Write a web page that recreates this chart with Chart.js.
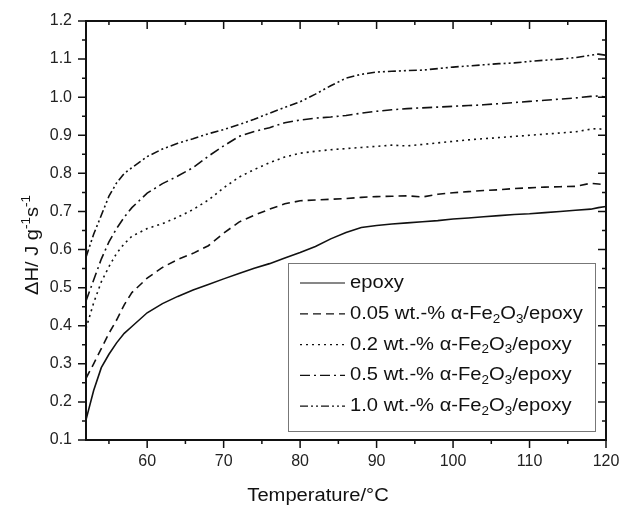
<!DOCTYPE html>
<html>
<head>
<meta charset="utf-8">
<script src="https://cdn.jsdelivr.net/npm/chart.js@4.4.0/dist/chart.umd.min.js"></script>
<style>
  html, body { margin: 0; padding: 0; background: #fff; }
  #wrap { width: 623px; height: 506px; }
</style>
</head>
<body>
<div id="wrap"><canvas id="dscChart" width="623" height="506"></canvas></div>
<script>
// temperature points (°C) shared by all curves
const temps = [52, 53, 54, 55, 56, 57, 58, 60, 62, 64, 66, 68, 70, 72, 74, 76, 78, 80, 82, 84, 86, 88, 90,
  92, 94, 96, 98, 100, 102, 104, 106, 108, 110, 112, 114, 116, 118, 119, 120];

const epoxy = [0.153, 0.23, 0.29, 0.325, 0.355, 0.38, 0.398, 0.434, 0.458, 0.477, 0.494, 0.508, 0.523, 0.537,
  0.551, 0.563, 0.578, 0.592, 0.608, 0.628, 0.645, 0.658, 0.663, 0.667, 0.670, 0.673, 0.676, 0.680, 0.683,
  0.686, 0.689, 0.692, 0.694, 0.697, 0.700, 0.703, 0.706, 0.710, 0.713];
const fe005 = [0.262, 0.30, 0.34, 0.38, 0.415, 0.455, 0.487, 0.525, 0.553, 0.574, 0.590, 0.610, 0.643, 0.672,
  0.690, 0.706, 0.720, 0.728, 0.730, 0.732, 0.734, 0.737, 0.739, 0.740, 0.741, 0.738, 0.745, 0.749, 0.752,
  0.755, 0.757, 0.760, 0.762, 0.764, 0.765, 0.766, 0.774, 0.772, 0.770];
const fe02 = [0.393, 0.46, 0.515, 0.555, 0.59, 0.615, 0.635, 0.655, 0.668, 0.685, 0.705, 0.730, 0.762, 0.790,
  0.810, 0.828, 0.843, 0.853, 0.858, 0.862, 0.865, 0.868, 0.871, 0.874, 0.872, 0.876, 0.880, 0.884, 0.888,
  0.891, 0.894, 0.897, 0.900, 0.903, 0.906, 0.909, 0.916, 0.918, 0.913];
const fe05 = [0.465, 0.52, 0.575, 0.62, 0.655, 0.685, 0.71, 0.748, 0.773, 0.793, 0.815, 0.845, 0.872, 0.897,
  0.910, 0.920, 0.933, 0.940, 0.945, 0.948, 0.952, 0.958, 0.963, 0.967, 0.970, 0.972, 0.974, 0.976, 0.978,
  0.980, 0.983, 0.986, 0.989, 0.992, 0.995, 0.998, 1.002, 1.003, 1.000];
const fe10 = [0.58, 0.64, 0.69, 0.74, 0.775, 0.80, 0.815, 0.844, 0.864, 0.879, 0.891, 0.904, 0.915, 0.928,
  0.942, 0.958, 0.973, 0.988, 1.008, 1.030, 1.050, 1.060, 1.066, 1.068, 1.070, 1.071, 1.075, 1.079, 1.082,
  1.085, 1.088, 1.090, 1.094, 1.097, 1.100, 1.104, 1.110, 1.113, 1.110];

const legendNames = ["epoxy", "0.05 wt.-% \u03b1-Fe2O3/epoxy", "0.2 wt.-% \u03b1-Fe2O3/epoxy",
  "0.5 wt.-% \u03b1-Fe2O3/epoxy", "1.0 wt.-% \u03b1-Fe2O3/epoxy"];

const xTicks = [60, 70, 80, 90, 100, 110, 120];
const yTicks = [0.1, 0.2, 0.3, 0.4, 0.5, 0.6, 0.7, 0.8, 0.9, 1.0, 1.1, 1.2];

const dashes = [[], [8, 5], [2, 4], [10, 4, 2, 4], [8, 3, 2, 3, 2, 3]];
const FONT = "'Liberation Sans', Arial, sans-serif";
const STRETCH = 1.12; // the original text is a bit wider than Arial

function toPoints(arr){
  return temps.map((t, i) => ({x: t, y: arr[i]}));
}

const seriesList = [epoxy, fe005, fe02, fe05, fe10];

const datasets = seriesList.map((s, i) => ({
  label: legendNames[i],
  data: toPoints(s),
  borderColor: '#111',
  borderWidth: 1.6,
  borderDash: dashes[i],
  pointRadius: 0,
  tension: 0,
  fill: false
}));

// segs: [text, mode] with mode 0 normal, 1 subscript, 2 superscript
function richWidth(ctx, segs, size){
  let w = 0;
  segs.forEach(sg => {
    ctx.font = (sg[1] ? Math.round(size * 0.65) : size) + "px " + FONT;
    w += ctx.measureText(sg[0]).width;
  });
  return w * STRETCH;
}

function drawRich(ctx, segs, x, y, size){
  ctx.save();
  ctx.translate(x, y);
  ctx.scale(STRETCH, 1);
  let cx = 0;
  segs.forEach(sg => {
    ctx.font = (sg[1] ? Math.round(size * 0.65) : size) + "px " + FONT;
    let dy = 0;
    if(sg[1] === 1) dy = size * 0.3;
    if(sg[1] === 2) dy = -size * 0.42;
    ctx.fillText(sg[0], cx, dy);
    cx += ctx.measureText(sg[0]).width;
  });
  ctx.restore();
}

function chemSegs(text){
  const out = [];
  text.split(/(Fe2O3)/).forEach(p => {
    if(p === "Fe2O3"){
      out.push(["Fe", 0], ["2", 1], ["O", 0], ["3", 1]);
    } else if(p){
      out.push([p, 0]);
    }
  });
  return out;
}

const framePlugin = {
  id: 'frame',
  afterDraw(chart){
    const ctx = chart.ctx;
    const a = chart.chartArea;
    const xs = chart.scales.x;
    const ys = chart.scales.y;
    ctx.save();

    // frame
    ctx.strokeStyle = '#111';
    ctx.lineWidth = 2;
    ctx.setLineDash([]);
    ctx.strokeRect(a.left, a.top, a.right - a.left, a.bottom - a.top);

    // ticks: bottom/left outward, top/right inward
    ctx.lineWidth = 1.5;
    ctx.beginPath();
    xTicks.forEach(v => {
      const px = xs.getPixelForValue(v);
      ctx.moveTo(px, a.bottom); ctx.lineTo(px, a.bottom + 8);
      ctx.moveTo(px, a.top); ctx.lineTo(px, a.top + 8);
      const m = xs.getPixelForValue(v - 5);
      if(v - 5 > xs.min){
        ctx.moveTo(m, a.bottom); ctx.lineTo(m, a.bottom + 4);
        ctx.moveTo(m, a.top); ctx.lineTo(m, a.top + 4);
      }
    });
    yTicks.forEach(v => {
      const py = ys.getPixelForValue(v);
      ctx.moveTo(a.left, py); ctx.lineTo(a.left - 8, py);
      ctx.moveTo(a.right, py); ctx.lineTo(a.right - 8, py);
      if(v + 0.05 < ys.max){
        const m = ys.getPixelForValue(v + 0.05);
        ctx.moveTo(a.left, m); ctx.lineTo(a.left - 4, m);
        ctx.moveTo(a.right, m); ctx.lineTo(a.right - 4, m);
      }
    });
    ctx.stroke();

    // legend box
    const bw = 307, bh = 168;
    const bx = a.right - 11 - bw;
    const by = a.bottom - 9 - bh;
    ctx.fillStyle = '#fff';
    ctx.fillRect(bx, by, bw, bh);
    ctx.strokeStyle = '#777';
    ctx.lineWidth = 1;
    ctx.strokeRect(bx + 0.5, by + 0.5, bw, bh);

    ctx.textBaseline = 'middle';
    ctx.textAlign = 'left';
    ctx.fillStyle = '#111';
    legendNames.forEach((name, i) => {
      const ry = by + 20 + i * 30.8;
      ctx.strokeStyle = '#111';
      ctx.lineWidth = 1.2;
      ctx.setLineDash(dashes[i]);
      ctx.beginPath();
      ctx.moveTo(bx + 12, ry);
      ctx.lineTo(bx + 57, ry);
      ctx.stroke();
      ctx.setLineDash([]);
      drawRich(ctx, chemSegs(name), bx + 62, ry, 18);
    });

    // x axis title
    ctx.textBaseline = 'alphabetic';
    const xt = [["Temperature/\u00b0C", 0]];
    const xw = richWidth(ctx, xt, 18);
    drawRich(ctx, xt, 318 - xw / 2, 501, 18);

    // y axis title with superscripts
    ctx.translate(38, 245);
    ctx.rotate(-Math.PI / 2);
    const yt = [["\u0394H/ J g", 0], ["-1", 2], ["s", 0], ["-1", 2]];
    const yw = richWidth(ctx, yt, 18);
    drawRich(ctx, yt, -yw / 2, 0, 18);
    ctx.restore();
  }
};

const ctx = document.getElementById('dscChart').getContext('2d');

new Chart(ctx, {
  type: 'line',
  data: { datasets: datasets },
  options: {
    responsive: false,
    animation: false,
    layout: { padding: { left: 0, top: 21, right: 17, bottom: 0 } },
    plugins: { legend: { display: false }, tooltip: { enabled: false } },
    scales: {
      x: {
        type: 'linear',
        min: 52,
        max: 120,
        afterFit: (s) => { s.height = 66; s.paddingLeft = 0; s.paddingRight = 0; },
        afterBuildTicks: (s) => { s.ticks = xTicks.map(v => ({value: v})); },
        grid: { display: false, drawTicks: false },
        border: { display: false },
        ticks: { color: '#222', padding: 12, maxRotation: 0, font: { family: FONT, size: 16 } }
      },
      y: {
        type: 'linear',
        min: 0.1,
        max: 1.2,
        afterFit: (s) => { s.width = 86; s.paddingTop = 0; s.paddingBottom = 0; },
        afterBuildTicks: (s) => { s.ticks = yTicks.map(v => ({value: v})); },
        grid: { display: false, drawTicks: false },
        border: { display: false },
        ticks: { color: '#222', padding: 14, font: { family: FONT, size: 16 },
          callback: (v) => Number(v).toFixed(1) }
      }
    }
  },
  plugins: [framePlugin]
});
</script>
</body>
</html>
